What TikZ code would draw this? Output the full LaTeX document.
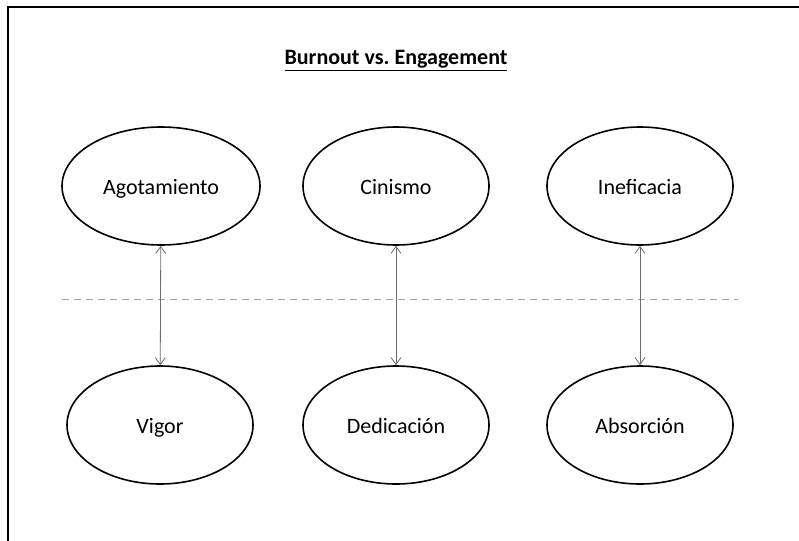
\documentclass[tikz,border=0pt]{standalone}
\usepackage{fontspec}
\setmainfont{Carlito}
\frenchspacing
\usetikzlibrary{shapes.geometric,arrows.meta}
\tikzset{
  oval/.style={ellipse, draw=black, line width=1.6pt, minimum width=186pt, minimum height=118pt, inner sep=0pt, text height=17pt, text depth=0pt, font=\fontsize{22}{26}\selectfont},
  link/.style={draw=gray!85!black, line width=0.8pt, {Straight Barb[length=7pt,width=10pt]}-{Straight Barb[length=7pt,width=10pt]}},
  sep/.style={draw=black!35, line width=0.9pt, dash pattern=on 7pt off 5pt}
}
\begin{document}
\begin{tikzpicture}[x=1pt,y=-1pt]
\useasboundingbox (0,0) rectangle (799,540);
\clip (0,0) rectangle (799,540);
\draw[line width=2.2pt] (8,7) rectangle (830,570);
\node[font=\bfseries\fontsize{22}{26}\selectfont, text height=16pt, text depth=0pt] (title) at (396,57) {\underline{Burnout vs.\ Engagement}};
\node[oval, minimum width=198pt] (ago) at (161,186) {Agotamiento};
\node[oval] (cin) at (396,186) {Cinismo};
\node[oval] (ine) at (640,186) {Ineficacia};
\node[oval] (vig) at (160,425) {Vigor};
\node[oval] (ded) at (396,425) {Dedicación};
\node[oval] (abs) at (640,425) {Absorción};
\coordinate (d1) at (62,299);
\coordinate (d2) at (738,299);
\draw[sep] (d1) -- (d2);
\draw[link] (ago) -- (vig);
\draw[link] (cin) -- (ded);
\draw[link] (ine) -- (abs);
\end{tikzpicture}
\end{document}
